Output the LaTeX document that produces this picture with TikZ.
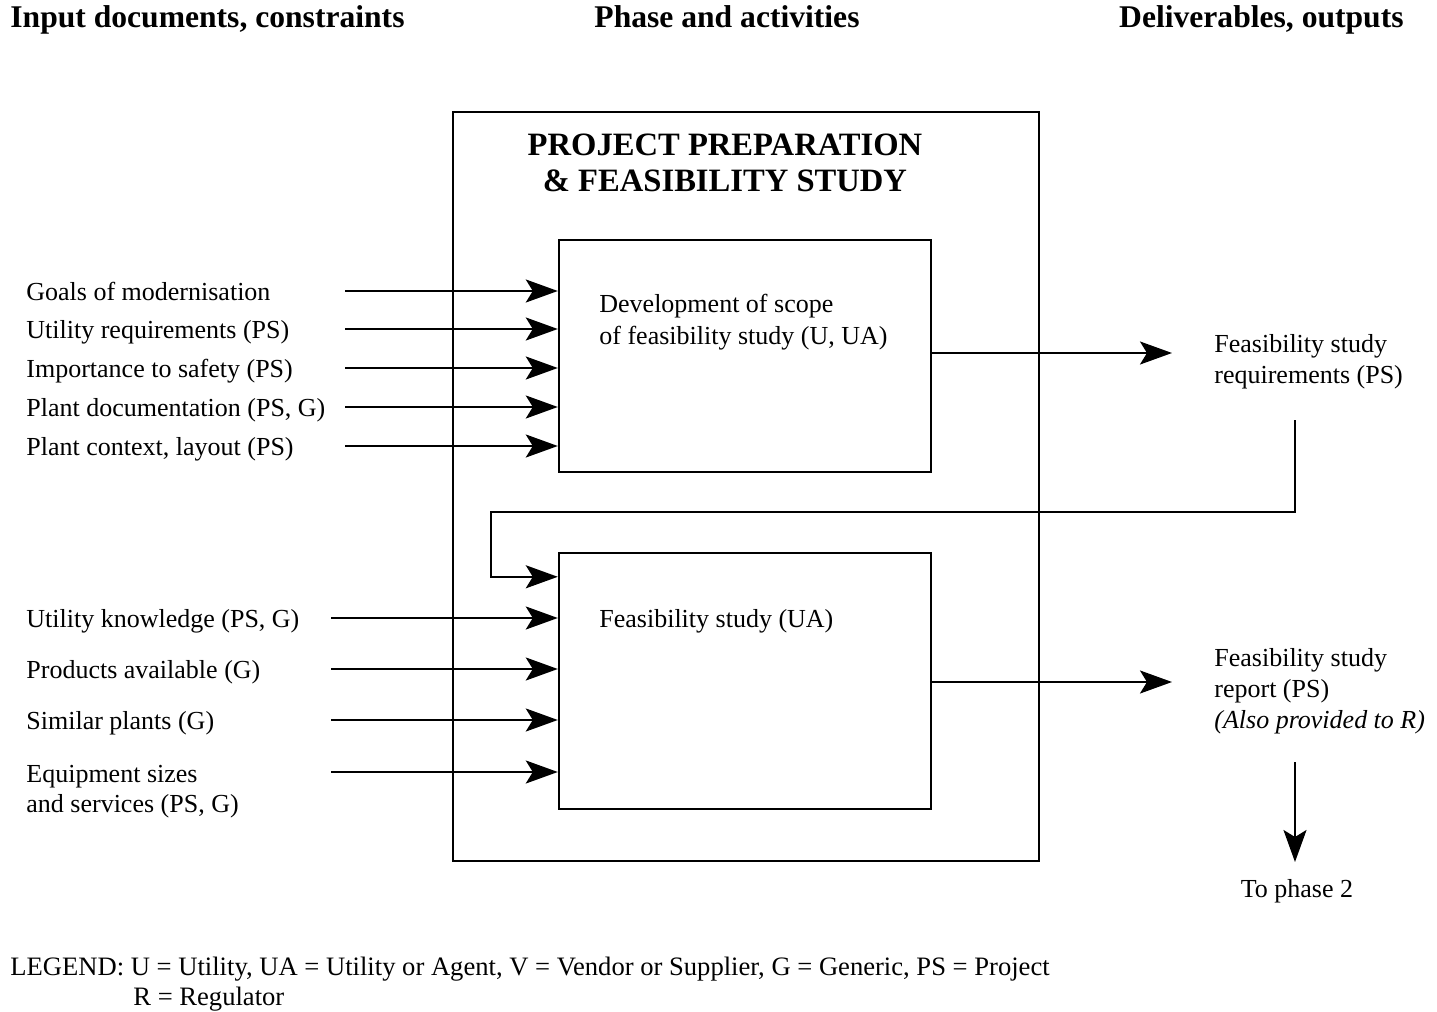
\documentclass[tikz,border=0pt]{standalone}
\usepackage{fontspec}
\setmainfont{Liberation Serif}
\usetikzlibrary{arrows.meta,calc}
\begin{document}
\begin{tikzpicture}[x=0.5pt,y=-0.5pt,
  lbl/.style={anchor=base west, inner sep=0pt, font=\fontsize{13}{16}\selectfont, align=left},
  hdr/.style={inner sep=0pt, font=\fontsize{15.8}{18}\selectfont\bfseries},
  box/.style={draw, line width=1.2pt, inner sep=0pt},
  flow/.style={line width=1.1pt, -{Stealth[length=16pt,width=11.5pt,inset=3.5pt]}},
  wire/.style={line width=1.1pt}]
\useasboundingbox (0,0) rectangle (1437,1012);

% column headings
\node[hdr, anchor=base west] (h1) at (10,27) {Input documents, constraints};
\node[hdr, anchor=base] (h2) at (727,27) {Phase and activities};
\node[hdr, anchor=base east] (h3) at (1404,27) {Deliverables, outputs};

% phase frame and its two activities (multi-line labels sit on their last baseline)
\node[box, minimum width=293pt, minimum height=374.5pt] (phase) at (746,486.5) {};
\node[hdr, anchor=base, align=center, font=\fontsize{16.3}{18}\selectfont\bfseries] (title) at (725,191)
  {PROJECT PREPARATION\\\& FEASIBILITY STUDY};
\node[box, minimum width=186pt, minimum height=116pt] (scope) at (745,356) {};
\node[box, minimum width=186pt, minimum height=128pt] (study) at (745,681) {};
\node[lbl] (scopetxt) at (599,344) {Development of scope\\of feasibility study (U, UA)};
\node[lbl] (studytxt) at (599,627) {Feasibility study (UA)};

% inputs to the scope definition
\node[lbl] (i1) at (26,300) {Goals of modernisation};
\node[lbl] (i2) at (26,338) {Utility requirements (PS)};
\node[lbl] (i3) at (26,377) {Importance to safety (PS)};
\node[lbl] (i4) at (26,416) {Plant documentation (PS, G)};
\node[lbl] (i5) at (26,455) {Plant context, layout (PS)};
\coordinate (a1) at (345,291);
\coordinate (a2) at (345,329);
\coordinate (a3) at (345,368);
\coordinate (a4) at (345,407);
\coordinate (a5) at (345,446);
\foreach \k in {1,...,5} \draw[flow] (a\k) -- (a\k -| scope.west);

% inputs to the feasibility study
\node[lbl] (j1) at (26,627) {Utility knowledge (PS, G)};
\node[lbl] (j2) at (26,678) {Products available (G)};
\node[lbl] (j3) at (26,729) {Similar plants (G)};
\node[lbl, font=\fontsize{13}{15}\selectfont] (j4) at (26,812) {Equipment sizes\\and services (PS, G)};
\coordinate (b1) at (331,618);
\coordinate (b2) at (331,669);
\coordinate (b3) at (331,720);
\coordinate (b4) at (331,772);
\foreach \k in {1,...,4} \draw[flow] (b\k) -- (b\k -| study.west);

% deliverables
\node[lbl, font=\fontsize{13}{15.5}\selectfont] (req) at (1214,383) {Feasibility study\\requirements (PS)};
\node[lbl, font=\fontsize{13}{15.5}\selectfont] (rep) at (1214,728) {Feasibility study\\report (PS)\\\textit{(Also provided to R)}};
\coordinate (o1) at (1172,353);
\coordinate (o2) at (1172,682);
\draw[flow] (scope.east |- o1) -- (o1);
\draw[flow] (study.east |- o2) -- (o2);

% requirements fed back into the study
\coordinate (fb1) at (1295,420);
\coordinate (fb2) at (491,512);
\draw[flow] (fb1) |- (fb2) |- ($(study.north west)+(0,25)$);

% hand-over to the next phase
\coordinate (d1) at (1295,762);
\coordinate (d2) at (1295,862);
\draw[flow] (d1) -- (d2);
\node[lbl, anchor=base] (next) at (1297,897) {To phase 2};

% legend
\node[lbl, font=\fontsize{13.3}{16}\selectfont] (leg1) at (10,975) {LEGEND: U = Utility, UA = Utility or Agent, V = Vendor or Supplier, G = Generic, PS = Project};
\node[lbl, font=\fontsize{13.3}{16}\selectfont] (leg2) at (133,1005) {R = Regulator};
\end{tikzpicture}
\end{document}
